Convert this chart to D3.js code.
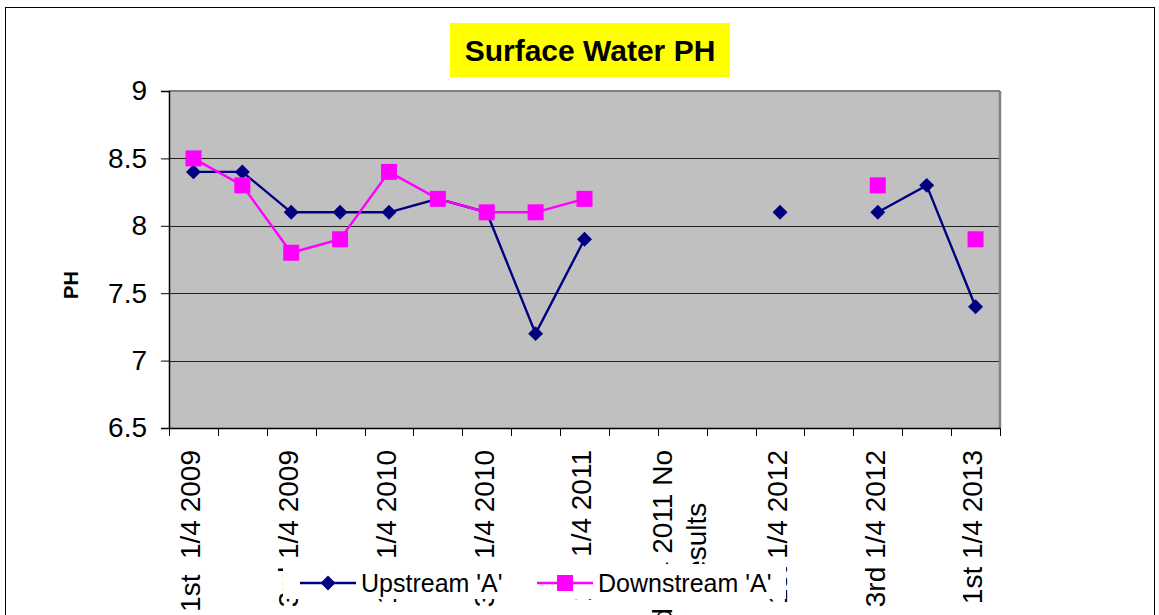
<!DOCTYPE html>
<html><head><meta charset="utf-8">
<script src="https://cdn.jsdelivr.net/npm/d3@7"></script>
<style>body{margin:0;background:#fff} svg{display:block} text{font-family:"Liberation Sans",Arial,sans-serif;white-space:pre}</style>
</head><body><svg id="c" width="1159" height="615"></svg>
<script>
const categories = ["1st  1/4 2009","2nd 1/4 2009","3rd 1/4 2009","4th 1/4 2009",
  "1st 1/4 2010","2nd 1/4 2010","3rd 1/4 2010","4th 1/4 2010",
  "1st 1/4 2011","2nd 1/4 2011","3rd 1/4 2011 No Results","4th 1/4 2011",
  "1st 1/4 2012","2nd 1/4 2012","3rd 1/4 2012","4th 1/4 2012","1st 1/4 2013"];
const upstream   = [8.4,8.4,8.1,8.1,8.1,8.2,8.1,7.2,7.9,null,null,null,8.1,null,8.1,8.3,7.4];
const downstream = [8.5,8.3,7.8,7.9,8.4,8.2,8.1,8.1,8.2,null,null,null,null,null,8.3,null,7.9];
const yTicks = [6.5,7,7.5,8,8.5,9];
const seriesNames = ["Upstream 'A'","Downstream 'A'"];
const titleText = "Surface Water PH";
const yTitle = "PH";

const svg = d3.select("#c");
const L=169, R=1000, T=91, B=428;

svg.append("rect").attr("x",5.5).attr("y",7.5).attr("width",1149).attr("height",700)
  .attr("fill","#fff").attr("stroke","#000").attr("stroke-width",1);

const x = d3.scaleBand().domain(categories).range([L,R]);
const bw = x.bandwidth();
const y = d3.scaleLinear().domain([6.5,9]).range([B,T]);

svg.append("rect").attr("x",L).attr("y",T).attr("width",R-L).attr("height",B-T).attr("fill","#c0c0c0");

// gridlines
svg.append("g").selectAll("line").data(yTicks).join("line")
  .attr("x1",L).attr("x2",R).attr("y1",d=>Math.round(y(d))+0.5).attr("y2",d=>Math.round(y(d))+0.5)
  .attr("stroke","#222").attr("stroke-width",1);

// plot border (gray)
svg.append("line").attr("x1",L).attr("x2",R).attr("y1",T).attr("y2",T).attr("stroke","#808080").attr("stroke-width",2);
svg.append("line").attr("x1",R).attr("x2",R).attr("y1",T).attr("y2",B).attr("stroke","#808080").attr("stroke-width",2.5);

// y axis
const yAxis = d3.axisLeft(y).tickValues(yTicks).tickSize(8).tickPadding(14).tickFormat(d3.format(""));
const gy = svg.append("g").attr("transform",`translate(${L},0)`).call(yAxis);
gy.select(".domain").attr("stroke","#000").attr("stroke-width",1.5);
gy.selectAll(".tick line").attr("stroke","#000");
gy.selectAll("text").attr("font-size",28).attr("fill","#000")
  .style("font-family",'"Liberation Sans",Arial,sans-serif');

// x axis line and boundary ticks
const bounds = categories.map(c=>x(c)).concat([R]);
svg.append("line").attr("x1",L).attr("x2",R).attr("y1",B+0.5).attr("y2",B+0.5).attr("stroke","#000").attr("stroke-width",1.5);
svg.append("g").selectAll("line").data(bounds).join("line")
  .attr("x1",d=>Math.round(d)+0.5).attr("x2",d=>Math.round(d)+0.5).attr("y1",B).attr("y2",B+8)
  .attr("stroke","#000");

// x labels
const xAxis = d3.axisBottom(x).tickSize(0).tickFormat((d,i)=> i%2===0 ? d : "");
const gx = svg.append("g").attr("transform",`translate(0,${B})`).call(xAxis);
gx.select(".domain").remove();
gx.selectAll(".tick text").each(function(d,i){
  const t = d3.select(this);
  t.attr("font-size",28).attr("fill","#000")
   .style("font-family",'"Liberation Sans",Arial,sans-serif')
   .attr("transform","rotate(-90)").attr("text-anchor","end")
   .attr("x",-22).attr("y",-3).attr("dy","0.35em");
  const label = t.text();
  if (label.includes(" No Results")) {
    const l1 = label.replace(" Results",""), l2 = "Results";
    t.text(l1).attr("y",-20);
    const len = this.getComputedTextLength();
    d3.select(this.parentNode).append("text")
      .attr("font-size",28).attr("fill","#000")
      .style("font-family",'"Liberation Sans",Arial,sans-serif')
      .attr("transform","rotate(-90)").attr("text-anchor","middle")
      .attr("x",-22-len/2).attr("y",14).attr("dy","0.35em").text(l2);
  }
});

// series
const cx = i => x(categories[i]) + bw/2;
const line = d3.line().defined(d=>d!=null).x((d,i)=>cx(i)).y(d=>y(d));
const diamond = d3.symbol().type(d3.symbolSquare).size(112);
const square = d3.symbol().type(d3.symbolSquare).size(256);

svg.append("path").datum(upstream).attr("d",line).attr("fill","none").attr("stroke","#000080").attr("stroke-width",2.4);
svg.append("g").selectAll("path").data(upstream.map((v,i)=>({v,i})).filter(d=>d.v!=null)).join("path")
  .attr("d",diamond).attr("transform",d=>`translate(${cx(d.i)},${y(d.v)}) rotate(45)`).attr("fill","#000080");

svg.append("path").datum(downstream).attr("d",line).attr("fill","none").attr("stroke","#ff00ff").attr("stroke-width",2.4);
svg.append("g").selectAll("path").data(downstream.map((v,i)=>({v,i})).filter(d=>d.v!=null)).join("path")
  .attr("d",square).attr("transform",d=>`translate(${cx(d.i)},${y(d.v)})`).attr("fill","#ff00ff");

// title
svg.append("rect").attr("x",450).attr("y",23).attr("width",280).attr("height",54).attr("fill","#ffff00");
svg.append("text").attr("x",590).attr("y",61).attr("text-anchor","middle").attr("font-size",30)
  .attr("font-weight","bold").attr("fill","#000").text(titleText);

// y title
svg.append("text").attr("transform","translate(71,285) rotate(-90)").attr("text-anchor","middle")
  .attr("dy","0.35em").attr("font-size",20).attr("font-weight","bold").attr("fill","#000").text(yTitle);

// legend
const lg = svg.append("g");
lg.append("rect").attr("x",283).attr("y",564).attr("width",503).attr("height",35).attr("fill","#fff");
const legendItems = [
  {name:seriesNames[0], color:"#000080", sym:diamond, rot:45, x0:300},
  {name:seriesNames[1], color:"#ff00ff", sym:square, rot:0, x0:537}
];
legendItems.forEach(it=>{
  lg.append("line").attr("x1",it.x0).attr("x2",it.x0+56).attr("y1",583).attr("y2",583)
    .attr("stroke",it.color).attr("stroke-width",2.4);
  lg.append("path").attr("d",it.sym).attr("transform",`translate(${it.x0+28},583) rotate(${it.rot})`).attr("fill",it.color);
  lg.append("text").attr("x",it.x0+61).attr("y",592).attr("font-size",25).attr("fill","#000").text(it.name);
});
</script></body></html>
